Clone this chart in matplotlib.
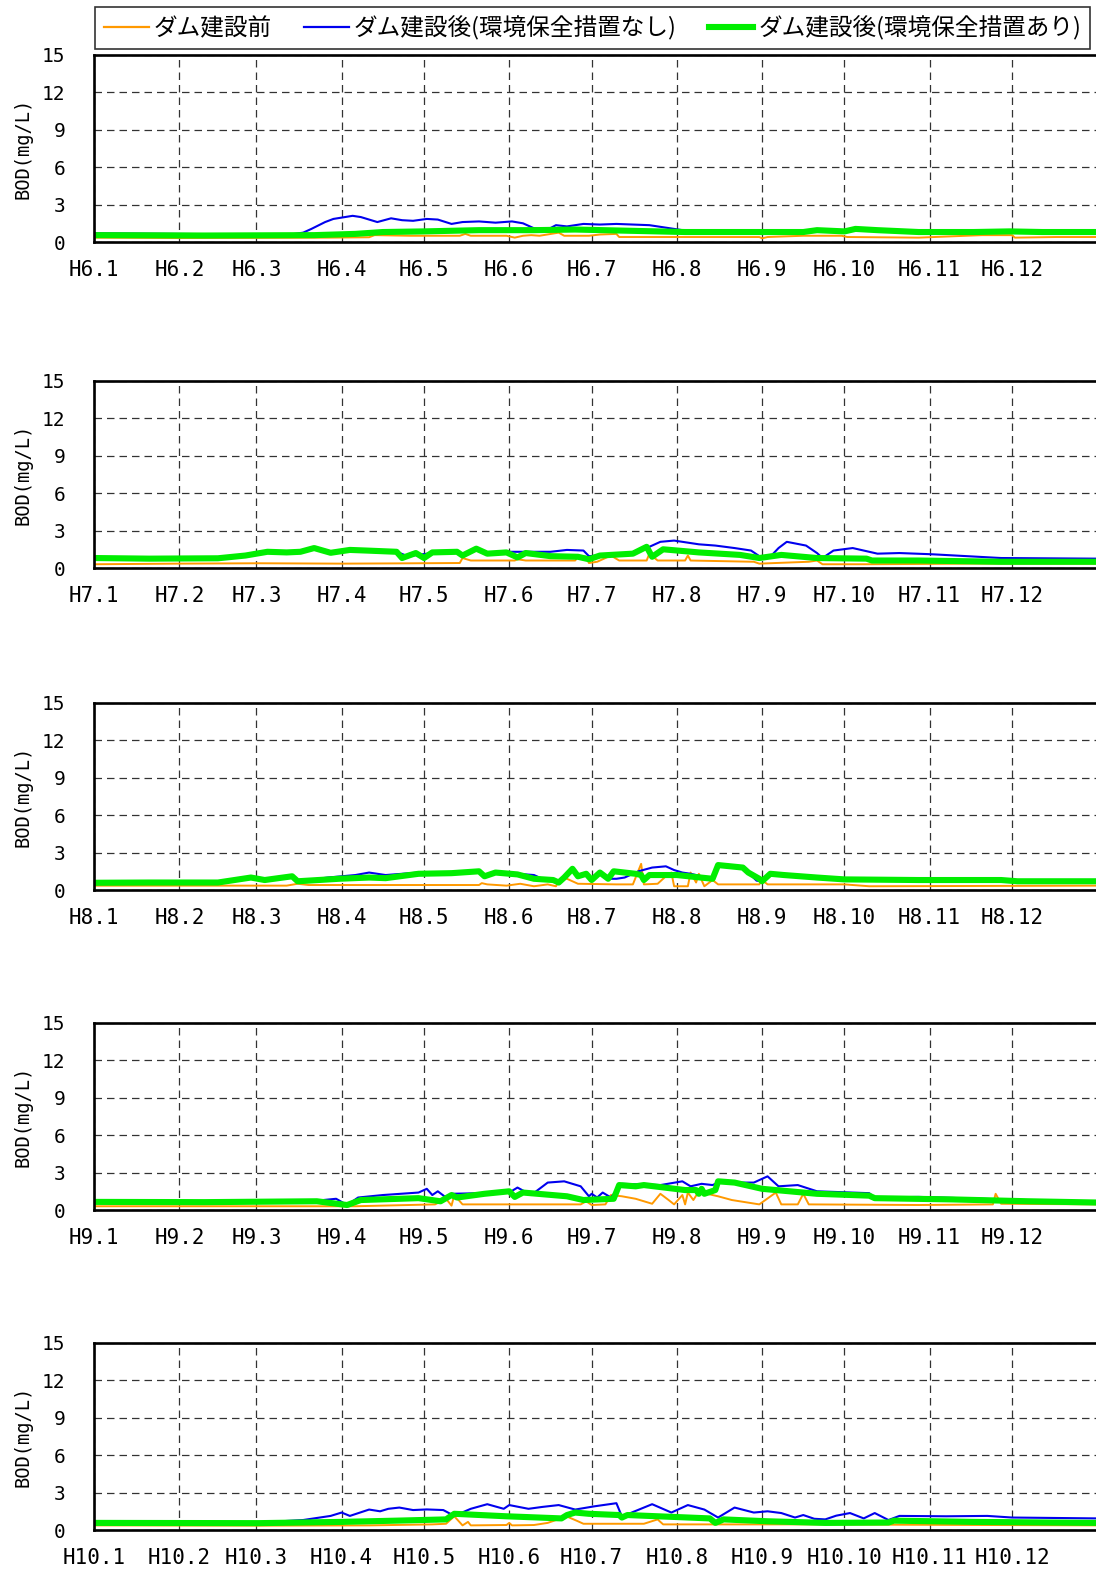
import matplotlib
matplotlib.use('Agg')
import matplotlib.pyplot as plt
from matplotlib.lines import Line2D

# month starts (day of year) and era years
month_start = [0, 31, 59, 90, 120, 151, 181, 212, 243, 273, 304, 334]
years = [6, 7, 8, 9, 10]

labels = ['ダム建設前', 'ダム建設後(環境保全措置なし)', 'ダム建設後(環境保全措置あり)']

# ---- H6 ----
h6_orange_day = [0, 30, 60, 85, 100, 102, 115, 133, 135, 137, 150, 153, 156, 159, 162, 169, 171, 180, 184, 190, 191, 220, 242, 243, 245, 258, 272, 274, 300, 323, 334, 335, 350, 365]
h6_orange_bod = [0.35, 0.32, 0.33, 0.35, 0.38, 0.55, 0.5, 0.5, 0.65, 0.5, 0.5, 0.35, 0.5, 0.55, 0.5, 0.75, 0.5, 0.5, 0.6, 0.65, 0.4, 0.4, 0.4, 0.3, 0.4, 0.5, 0.5, 0.4, 0.35, 0.55, 0.55, 0.35, 0.4, 0.4]
h6_blue_day = [0, 30, 60, 72, 76, 79, 84, 87, 94, 97, 100, 103, 108, 112, 116, 121, 125, 130, 134, 140, 146, 152, 156, 160, 165, 168, 172, 178, 184, 190, 196, 202, 208, 214, 220, 230, 260, 263, 270, 277, 290, 310, 330, 365]
h6_blue_bod = [0.7, 0.65, 0.6, 0.62, 0.75, 1.05, 1.6, 1.85, 2.1, 2.0, 1.8, 1.6, 1.9, 1.75, 1.7, 1.85, 1.8, 1.45, 1.6, 1.65, 1.55, 1.65, 1.5, 1.1, 1.0, 1.35, 1.25, 1.45, 1.4, 1.45, 1.4, 1.35, 1.15, 0.95, 0.75, 0.8, 0.8, 0.95, 0.85, 1.05, 0.85, 0.75, 0.85, 0.8]
h6_green_day = [0, 40, 80, 95, 105, 120, 140, 160, 175, 195, 215, 240, 258, 263, 268, 273, 277, 285, 300, 320, 333, 345, 365]
h6_green_bod = [0.55, 0.52, 0.55, 0.65, 0.8, 0.85, 0.95, 0.95, 1.0, 0.9, 0.8, 0.8, 0.8, 0.95, 0.9, 0.85, 1.05, 0.95, 0.8, 0.8, 0.85, 0.8, 0.8]

# ---- H7 ----
h7_orange_day = [0, 30, 60, 90, 110, 133, 134, 137, 153, 154, 157, 175, 176, 179, 180, 183, 188, 191, 201, 202, 205, 215, 216, 217, 240, 242, 260, 263, 265, 280, 320, 365]
h7_orange_bod = [0.3, 0.35, 0.38, 0.35, 0.37, 0.4, 0.8, 0.6, 0.6, 0.7, 0.6, 0.6, 0.9, 0.9, 0.4, 0.5, 1.0, 0.6, 0.6, 1.15, 0.6, 0.6, 1.0, 0.6, 0.5, 0.35, 0.5, 0.6, 0.3, 0.3, 0.35, 0.35]
h7_blue_day = [0, 20, 45, 55, 63, 70, 75, 80, 86, 93, 99, 110, 114, 123, 132, 134, 139, 143, 150, 157, 166, 172, 178, 180, 184, 196, 201, 206, 211, 220, 226, 233, 239, 242, 246, 249, 252, 259, 263, 265, 269, 276, 282, 285, 293, 305, 330, 365]
h7_blue_bod = [0.85, 0.8, 0.8, 1.0, 1.3, 1.25, 1.3, 1.6, 1.3, 1.45, 1.4, 1.3, 0.95, 1.2, 1.3, 1.05, 1.55, 1.2, 1.3, 1.3, 1.3, 1.45, 1.4, 0.95, 1.0, 1.15, 1.6, 2.1, 2.2, 1.9, 1.8, 1.6, 1.4, 0.95, 0.9, 1.6, 2.1, 1.8, 1.2, 0.8, 1.4, 1.6, 1.3, 1.15, 1.2, 1.1, 0.8, 0.75]
h7_green_day = [0, 20, 45, 55, 63, 70, 75, 80, 86, 93, 99, 110, 112, 117, 120, 123, 132, 134, 139, 143, 150, 154, 157, 166, 176, 180, 184, 196, 201, 203, 207, 220, 235, 242, 250, 263, 281, 283, 300, 330, 365]
h7_green_bod = [0.8, 0.75, 0.78, 1.0, 1.3, 1.25, 1.3, 1.6, 1.22, 1.45, 1.4, 1.3, 0.8, 1.2, 0.8, 1.25, 1.3, 1.0, 1.55, 1.15, 1.25, 0.85, 1.2, 0.95, 0.9, 0.7, 1.0, 1.15, 1.7, 0.9, 1.5, 1.25, 1.05, 0.8, 1.05, 0.8, 0.75, 0.6, 0.6, 0.5, 0.5]

# ---- H8 ----
h8_orange_day = [0, 70, 74, 78, 140, 141, 143, 150, 155, 160, 165, 168, 169, 171, 176, 190, 196, 199, 200, 205, 208, 210, 211, 216, 217, 219, 220, 222, 225, 227, 242, 243, 245, 273, 282, 365]
h8_orange_bod = [0.35, 0.35, 0.5, 0.4, 0.4, 0.55, 0.45, 0.35, 0.5, 0.3, 0.45, 0.3, 0.7, 1.0, 0.5, 0.45, 0.45, 2.1, 0.45, 0.5, 1.1, 1.4, 0.3, 0.3, 1.4, 0.6, 1.3, 0.3, 0.8, 0.45, 0.45, 0.8, 0.45, 0.45, 0.3, 0.35]
h8_blue_day = [0, 45, 57, 62, 72, 74, 85, 95, 100, 106, 118, 130, 140, 142, 146, 154, 160, 163, 167, 169, 171, 174, 176, 179, 181, 184, 187, 190, 193, 198, 203, 208, 211, 214, 217, 225, 227, 236, 238, 241, 243, 246, 251, 263, 273, 300, 336, 365]
h8_blue_bod = [0.65, 0.62, 1.0, 0.8, 1.1, 0.7, 1.0, 1.2, 1.4, 1.2, 1.4, 1.35, 1.5, 1.1, 1.4, 1.3, 1.2, 0.9, 0.8, 0.6, 1.0, 1.7, 1.1, 1.3, 0.8, 1.4, 0.9, 0.9, 1.0, 1.5, 1.8, 1.9, 1.6, 1.4, 1.3, 0.9, 2.0, 1.8, 1.4, 0.75, 0.7, 1.3, 1.2, 1.0, 0.85, 0.8, 0.7, 0.7]
h8_green_day = [0, 20, 45, 57, 62, 72, 74, 89, 100, 106, 118, 130, 140, 142, 146, 154, 160, 167, 169, 171, 174, 176, 179, 181, 184, 187, 189, 197, 199, 200, 202, 212, 225, 227, 236, 238, 242, 243, 246, 251, 263, 273, 300, 330, 336, 365]
h8_green_bod = [0.58, 0.6, 0.6, 1.0, 0.8, 1.1, 0.7, 0.9, 1.0, 0.95, 1.3, 1.35, 1.5, 1.1, 1.4, 1.25, 0.9, 0.8, 0.6, 1.0, 1.7, 1.1, 1.3, 0.8, 1.4, 0.9, 1.5, 1.3, 1.2, 0.8, 1.2, 1.2, 0.9, 2.0, 1.8, 1.4, 0.9, 0.7, 1.3, 1.2, 1.0, 0.85, 0.8, 0.8, 0.7, 0.7]

# ---- H9 ----
h9_orange_day = [0, 60, 95, 124, 128, 130, 131, 134, 177, 179, 181, 186, 188, 192, 197, 203, 206, 209, 211, 214, 215, 216, 218, 220, 223, 227, 232, 242, 248, 250, 256, 258, 260, 300, 327, 328, 330, 365]
h9_orange_bod = [0.3, 0.3, 0.3, 0.45, 0.9, 0.35, 1.2, 0.45, 0.45, 0.7, 0.4, 0.45, 1.2, 1.1, 0.9, 0.5, 1.3, 0.8, 0.45, 1.2, 0.45, 1.4, 0.8, 1.5, 1.3, 1.1, 0.8, 0.45, 1.4, 0.45, 0.45, 1.3, 0.45, 0.4, 0.45, 1.3, 0.5, 0.45]
h9_blue_day = [0, 40, 81, 88, 92, 96, 105, 118, 121, 123, 125, 128, 130, 151, 154, 159, 165, 171, 177, 180, 181, 183, 185, 188, 192, 206, 214, 217, 221, 225, 227, 240, 245, 249, 256, 263, 282, 284, 300, 330, 365]
h9_blue_bod = [0.65, 0.63, 0.75, 0.9, 0.4, 1.0, 1.2, 1.4, 1.7, 1.2, 1.5, 1.0, 1.3, 1.4, 1.8, 1.2, 2.2, 2.3, 1.9, 1.1, 1.3, 1.0, 1.4, 1.0, 2.1, 2.0, 2.3, 1.9, 2.1, 2.0, 2.2, 2.2, 2.7, 1.9, 2.0, 1.5, 1.35, 1.0, 1.05, 0.85, 0.65]
h9_green_day = [0, 40, 81, 92, 97, 118, 126, 130, 132, 142, 151, 153, 156, 172, 178, 189, 191, 197, 200, 215, 219, 220, 221, 222, 226, 227, 233, 243, 263, 282, 284, 312, 340, 365]
h9_green_bod = [0.65, 0.63, 0.7, 0.4, 0.8, 0.95, 0.7, 1.2, 1.0, 1.3, 1.5, 1.05, 1.4, 1.1, 0.8, 0.9, 2.0, 1.9, 2.0, 1.6, 1.6, 1.3, 1.7, 1.3, 1.6, 2.3, 2.2, 1.7, 1.3, 1.15, 0.95, 0.85, 0.7, 0.6]

# ---- H10 ----
h10_orange_day = [0, 60, 100, 123, 128, 131, 134, 136, 137, 150, 151, 152, 160, 165, 168, 172, 176, 178, 200, 205, 207, 260, 365]
h10_orange_bod = [0.37, 0.35, 0.37, 0.45, 0.5, 1.1, 0.37, 0.65, 0.37, 0.4, 0.57, 0.37, 0.4, 0.57, 0.8, 1.08, 0.7, 0.5, 0.5, 0.85, 0.45, 0.45, 0.37]
h10_blue_day = [0, 40, 64, 76, 86, 90, 93, 100, 104, 107, 111, 116, 121, 127, 131, 137, 143, 149, 151, 158, 163, 169, 175, 182, 190, 192, 203, 210, 216, 222, 227, 233, 240, 245, 250, 255, 258, 262, 266, 270, 275, 280, 284, 289, 293, 310, 325, 334, 365]
h10_blue_bod = [0.6, 0.6, 0.65, 0.8, 1.13, 1.4, 1.13, 1.64, 1.5, 1.7, 1.8, 1.6, 1.65, 1.6, 1.13, 1.7, 2.07, 1.7, 2.0, 1.7, 1.85, 2.0, 1.64, 1.9, 2.15, 1.08, 2.07, 1.4, 2.0, 1.64, 1.0, 1.8, 1.4, 1.5, 1.36, 1.0, 1.2, 0.9, 0.85, 1.15, 1.36, 0.93, 1.36, 0.8, 1.13, 1.1, 1.13, 1.0, 0.93]
h10_green_day = [0, 60, 90, 110, 128, 131, 150, 170, 172, 175, 180, 191, 192, 194, 224, 226, 229, 245, 266, 289, 291, 320, 365]
h10_green_bod = [0.57, 0.55, 0.65, 0.75, 0.85, 1.3, 1.1, 0.93, 1.2, 1.4, 1.3, 1.2, 1.0, 1.2, 0.93, 0.57, 0.85, 0.7, 0.57, 0.6, 0.75, 0.65, 0.57]

panels = [
    (h6_orange_day, h6_orange_bod, h6_blue_day, h6_blue_bod, h6_green_day, h6_green_bod),
    (h7_orange_day, h7_orange_bod, h7_blue_day, h7_blue_bod, h7_green_day, h7_green_bod),
    (h8_orange_day, h8_orange_bod, h8_blue_day, h8_blue_bod, h8_green_day, h8_green_bod),
    (h9_orange_day, h9_orange_bod, h9_blue_day, h9_blue_bod, h9_green_day, h9_green_bod),
    (h10_orange_day, h10_orange_bod, h10_blue_day, h10_blue_bod, h10_green_day, h10_green_bod),
]

c_orange = '#ff9900'
c_blue = '#0000ee'
c_green = '#00ee00'

W, H = 1096, 1575
fig = plt.figure(figsize=(W / 100, H / 100), dpi=100)

tops = [55, 381, 703, 1023, 1343]
ph = 187
left, width = 94.3, 1003

mono = 'DejaVu Sans Mono'

for yr, top, (od, ov, bd, bv, gd, gv) in zip(years, tops, panels):
    ax = fig.add_axes([left / W, 1 - (top + ph) / H, width / W, ph / H])
    ax.plot(od, ov, color=c_orange, lw=1.4)
    ax.plot(bd, bv, color=c_blue, lw=1.5)
    ax.plot(gd, gv, color=c_green, lw=4.4, solid_capstyle='butt')
    ax.set_xlim(0, 365)
    ax.set_ylim(0, 15)
    ax.set_yticks([0, 3, 6, 9, 12, 15])
    ax.set_xticks(month_start)
    ax.set_xticklabels(['H%d.%d' % (yr, m) for m in range(1, 13)], fontfamily=mono, fontsize=15)
    for t in ax.get_yticklabels():
        t.set_fontfamily(mono)
        t.set_fontsize(14)
    ax.tick_params(axis='y', length=0, pad=21)
    ax.tick_params(axis='x', length=0, pad=13)
    ax.grid(True, color='0.2', lw=0.9, ls=(0, (6, 4)))
    for s in ['left', 'top', 'bottom']:
        ax.spines[s].set_linewidth(1.9)
    ax.spines['right'].set_visible(False)
    ax.set_ylabel('BOD(mg/L)', fontfamily=mono, fontsize=13.5)
    ax.yaxis.set_label_coords(-0.062, 0.5)

handles = [Line2D([], [], color=c_orange, lw=1.6),
           Line2D([], [], color=c_blue, lw=1.6),
           Line2D([], [], color=c_green, lw=4.4)]
leg = fig.legend(handles, labels, loc='lower left',
                 bbox_to_anchor=(95 / W, 1 - 49 / H, 995 / W, 41 / H),
                 mode='expand', ncol=3, frameon=True, fancybox=False,
                 edgecolor='black', borderpad=0.38, borderaxespad=0,
                 handlelength=1.9, handletextpad=0.2, columnspacing=0.8,
                 prop={'family': ['Noto Sans CJK JP', 'DejaVu Sans'], 'size': 17})
leg.get_frame().set_linewidth(1.2)

plt.savefig('out.png', dpi=100)
